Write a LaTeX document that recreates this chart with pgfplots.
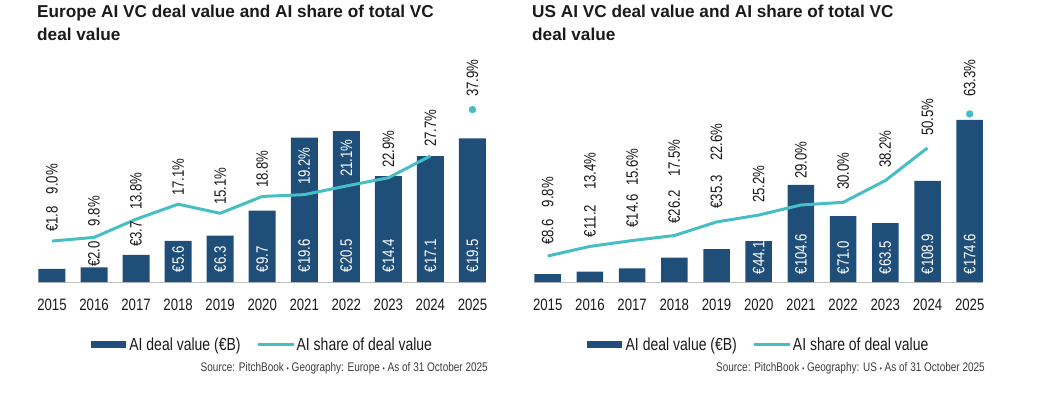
\documentclass[border=0pt]{standalone}
\usepackage{pgfplots}
\pgfplotsset{compat=1.18}
\usepackage{fontspec}
\setmainfont{Liberation Sans}
\newfontfamily\cond{Liberation Sans}[FakeStretch=0.8]
\definecolor{barblue}{RGB}{31,78,121}
\definecolor{lineteal}{RGB}{70,190,195}
\definecolor{txt}{RGB}{26,26,26}
\definecolor{srcgray}{RGB}{60,60,60}
\definecolor{axgray}{RGB}{191,191,191}
\tikzset{
  lbl/.style={font=\cond\fontsize{16.5}{16.5}\selectfont, rotate=90, inner sep=0pt, text=txt},
  wlbl/.style={lbl, text=white, anchor=west},
}
\pgfplotsset{
  base/.style={scale only axis, height=222pt, ymin=0, clip=false},
  barax/.style={base, axis y line=none, axis x line*=bottom,
    x axis line style={axgray, line width=1pt, -},
    xtick={0,1,2,3,4,5,6,7,8,9,10},
    xticklabels={2015,2016,2017,2018,2019,2020,2021,2022,2023,2024,2025},
    major tick length=0pt,
    xticklabel style={font=\cond\fontsize{16.5}{16.5}\selectfont, text=txt, anchor=north, inner sep=0pt, yshift=-17pt},
    legend columns=-1,
    legend style={at={(0.5,-0.2815)}, anchor=center, draw=none, fill=none,
      font=\cond\fontsize{17.5}{17.5}\selectfont, text=txt, inner sep=0pt,
      /tikz/every even column/.append style={column sep=14pt},
      nodes={inner sep=1.5pt}},
  },
  lineax/.style={base, hide axis},
}
\begin{document}
\begin{tikzpicture}[x=1pt,y=1pt]
\useasboundingbox (0,0) rectangle (1042,397);
% ---------------- Titles ----------------
\node[anchor=base west, font=\bfseries\fontsize{17.2}{17.2}\selectfont, text=txt, inner sep=0pt] at (37,379.7) {Europe AI VC deal value and AI share of total VC};
\node[anchor=base west, font=\bfseries\fontsize{17.2}{17.2}\selectfont, text=txt, inner sep=0pt] at (37,356.3) {deal value};
\node[anchor=base west, font=\bfseries\fontsize{17.2}{17.2}\selectfont, text=txt, inner sep=0pt] at (532,379.7) {US AI VC deal value and AI share of total VC};
\node[anchor=base west, font=\bfseries\fontsize{17.2}{17.2}\selectfont, text=txt, inner sep=0pt] at (532,356.3) {deal value};
% ---------------- Europe ----------------
\begin{axis}[barax, at={(38.5pt,115pt)}, anchor=south west, width=447.4pt, xmin=-0.32, xmax=10.32, ymax=30.16]
\addplot[ybar, bar width=27pt, fill=barblue, draw=none,
  legend image code/.code={\path (0pt,0pt) -- (37pt,0pt); \fill[barblue] (0pt,-3.5pt) rectangle (35pt,3.5pt);}]
  coordinates {(0,1.8)(1,2.0)(2,3.7)(3,5.6)(4,6.3)(5,9.7)(6,19.6)(7,20.5)(8,14.4)(9,17.1)(10,19.5)};
\addlegendentry{AI deal value (€B)}
\addlegendimage{legend image code/.code={\draw[lineteal, line width=3pt] (0pt,0pt) -- (36pt,0pt);}}
\addlegendentry{AI share of deal value}
\end{axis}
\begin{axis}[lineax, at={(38.5pt,115pt)}, anchor=south west, width=447.4pt, xmin=-0.32, xmax=10.32, ymax=48.79]
\addplot[lineteal, line width=3pt, mark=none, line join=round]
  coordinates {(0,9.0)(1,9.8)(2,13.8)(3,17.1)(4,15.1)(5,18.8)(6,19.2)(7,21.1)(8,22.9)(9,27.7)};
\addplot[only marks, mark=*, mark size=3.5pt, color=lineteal]
  coordinates {(10,37.9)};
% value labels
\node[lbl] at ([yshift=63pt]axis cs:0,0) {€1.8};
\node[lbl] at ([yshift=28pt]axis cs:1,0) {€2.0};
\node[lbl] at ([yshift=48pt]axis cs:2,0) {€3.7};
\node[wlbl] at ([yshift=9.5pt]axis cs:3,0) {€5.6};
\node[wlbl] at ([yshift=9.5pt]axis cs:4,0) {€6.3};
\node[wlbl] at ([yshift=9.5pt]axis cs:5,0) {€9.7};
\node[wlbl] at ([yshift=9.5pt]axis cs:6,0) {€19.6};
\node[wlbl] at ([yshift=9.5pt]axis cs:7,0) {€20.5};
\node[wlbl] at ([yshift=9.5pt]axis cs:8,0) {€14.4};
\node[wlbl] at ([yshift=9.5pt]axis cs:9,0) {€17.1};
\node[wlbl] at ([yshift=9.5pt]axis cs:10,0) {€19.5};
% share labels
\node[lbl] at ([yshift=103pt]axis cs:0,0) {9.0\%};
\node[lbl] at ([yshift=71pt]axis cs:1,0) {9.8\%};
\node[lbl] at ([yshift=91pt]axis cs:2,0) {13.8\%};
\node[lbl] at ([yshift=105pt]axis cs:3,0) {17.1\%};
\node[lbl] at ([yshift=96pt]axis cs:4,0) {15.1\%};
\node[lbl] at ([yshift=113pt]axis cs:5,0) {18.8\%};
\node[lbl, text=white] at ([yshift=116pt]axis cs:6,0) {19.2\%};
\node[lbl, text=white] at ([yshift=124pt]axis cs:7,0) {21.1\%};
\node[lbl] at ([yshift=133pt]axis cs:8,0) {22.9\%};
\node[lbl] at ([yshift=154pt]axis cs:9,0) {27.7\%};
\node[lbl] at ([yshift=204pt]axis cs:10,0) {37.9\%};
\end{axis}
\node[anchor=base east, font=\cond\fontsize{12.5}{12.5}\selectfont, text=srcgray, inner sep=0pt] at (488,25.5) {Source: PitchBook {\fontsize{8}{8}\selectfont •} Geography: Europe {\fontsize{8}{8}\selectfont •} As of 31 October 2025};
% ---------------- US ----------------
\begin{axis}[barax, at={(534pt,115pt)}, anchor=south west, width=449pt, xmin=-0.325, xmax=10.315, ymax=239.2]
\addplot[ybar, bar width=26.5pt, fill=barblue, draw=none,
  legend image code/.code={\path (0pt,0pt) -- (37pt,0pt); \fill[barblue] (0pt,-3.5pt) rectangle (35pt,3.5pt);}]
  coordinates {(0,8.6)(1,11.2)(2,14.6)(3,26.2)(4,35.3)(5,44.1)(6,104.6)(7,71.0)(8,63.5)(9,108.9)(10,174.6)};
\addlegendentry{AI deal value (€B)}
\addlegendimage{legend image code/.code={\draw[lineteal, line width=3pt] (0pt,0pt) -- (36pt,0pt);}}
\addlegendentry{AI share of deal value}
\end{axis}
\begin{axis}[lineax, at={(534pt,115pt)}, anchor=south west, width=449pt, xmin=-0.325, xmax=10.315, ymax=83.6]
\addplot[lineteal, line width=3pt, mark=none, line join=round]
  coordinates {(0,9.8)(1,13.4)(2,15.6)(3,17.5)(4,22.6)(5,25.2)(6,29.0)(7,30.0)(8,38.2)(9,50.5)};
\addplot[only marks, mark=*, mark size=3.5pt, color=lineteal]
  coordinates {(10,63.3)};
\node[lbl] at ([yshift=50pt]axis cs:0,0) {€8.6};
\node[lbl] at ([yshift=61pt]axis cs:1,0) {€11.2};
\node[lbl] at ([yshift=71pt]axis cs:2,0) {€14.6};
\node[lbl] at ([yshift=75pt]axis cs:3,0) {€26.2};
\node[lbl] at ([yshift=90pt]axis cs:4,0) {€35.3};
\node[wlbl] at ([yshift=7.5pt]axis cs:5,0) {€44.1};
\node[wlbl] at ([yshift=7.5pt]axis cs:6,0) {€104.6};
\node[wlbl] at ([yshift=7.5pt]axis cs:7,0) {€71.0};
\node[wlbl] at ([yshift=7.5pt]axis cs:8,0) {€63.5};
\node[wlbl] at ([yshift=7.5pt]axis cs:9,0) {€108.9};
\node[wlbl] at ([yshift=7.5pt]axis cs:10,0) {€174.6};
\node[lbl] at ([yshift=90pt]axis cs:0,0) {9.8\%};
\node[lbl] at ([yshift=111pt]axis cs:1,0) {13.4\%};
\node[lbl] at ([yshift=115pt]axis cs:2,0) {15.6\%};
\node[lbl] at ([yshift=124pt]axis cs:3,0) {17.5\%};
\node[lbl] at ([yshift=140pt]axis cs:4,0) {22.6\%};
\node[lbl] at ([yshift=98pt]axis cs:5,0) {25.2\%};
\node[lbl] at ([yshift=122pt]axis cs:6,0) {29.0\%};
\node[lbl] at ([yshift=111pt]axis cs:7,0) {30.0\%};
\node[lbl] at ([yshift=133pt]axis cs:8,0) {38.2\%};
\node[lbl] at ([yshift=165pt]axis cs:9,0) {50.5\%};
\node[lbl] at ([yshift=204pt]axis cs:10,0) {63.3\%};
\end{axis}
\node[anchor=base east, font=\cond\fontsize{12.5}{12.5}\selectfont, text=srcgray, inner sep=0pt] at (985,25.5) {Source: PitchBook {\fontsize{8}{8}\selectfont •} Geography: US {\fontsize{8}{8}\selectfont •} As of 31 October 2025};
\end{tikzpicture}
\end{document}
